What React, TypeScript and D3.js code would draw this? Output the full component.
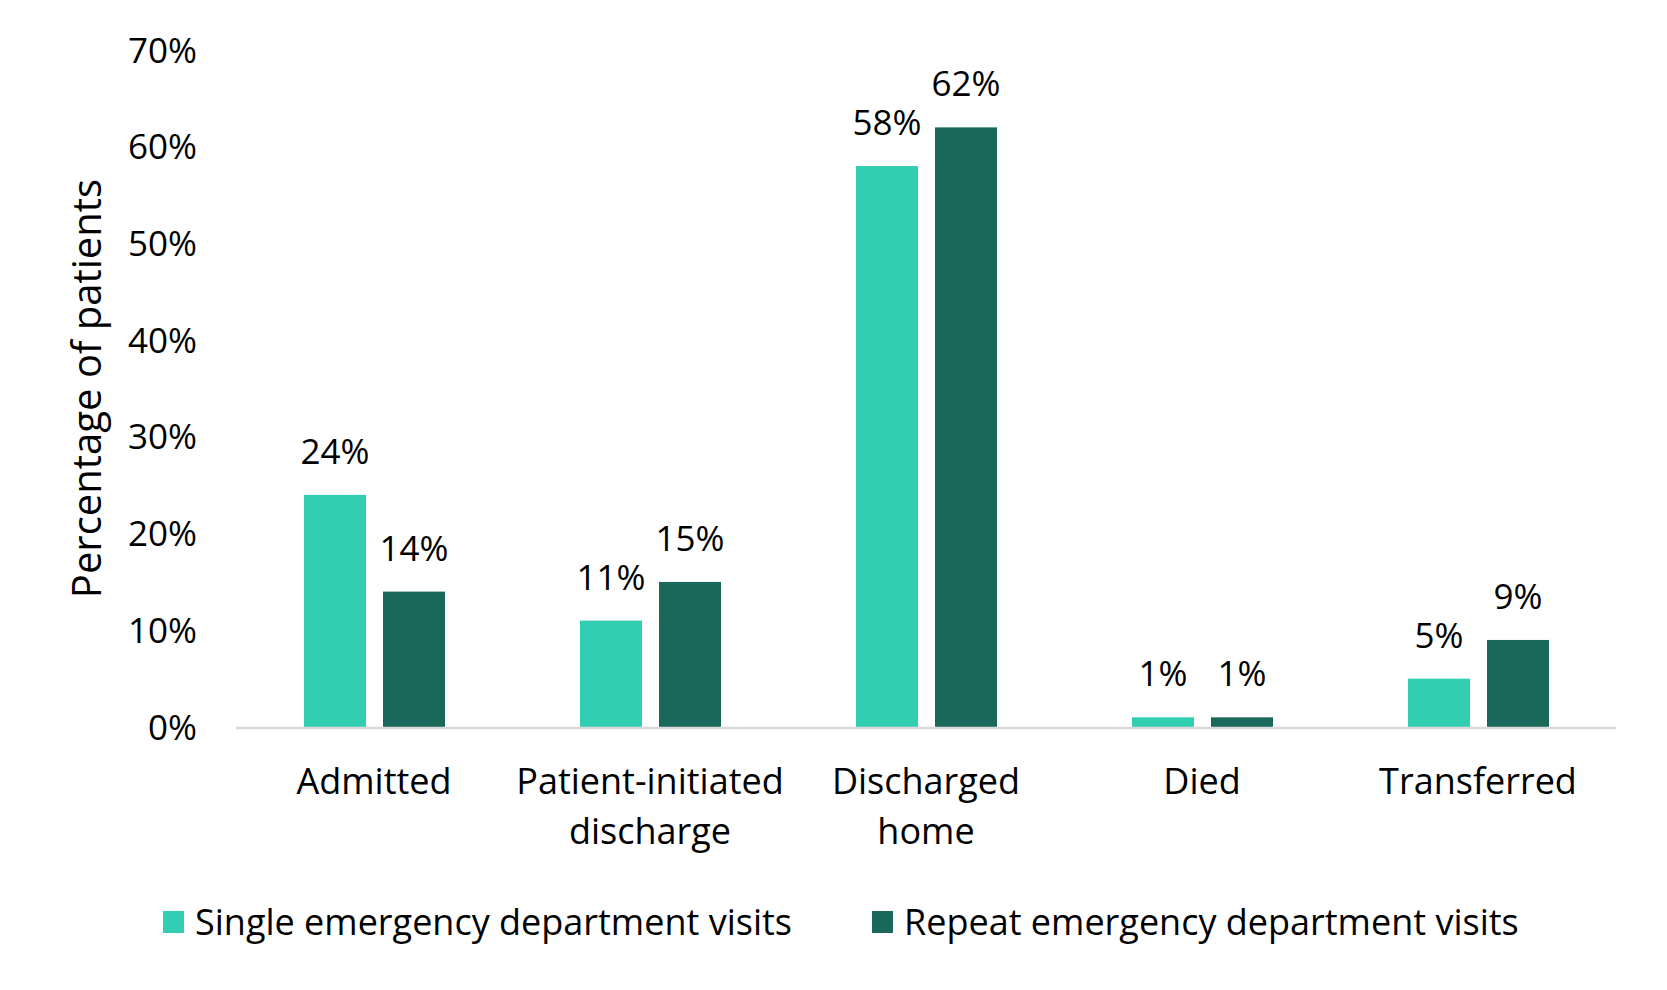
import React from "react";
import * as d3 from "d3";

const categories = ["Admitted", "Patient-initiated discharge", "Discharged home", "Died", "Transferred"];
const categoryLines = [["Admitted"], ["Patient-initiated", "discharge"], ["Discharged", "home"], ["Died"], ["Transferred"]];
const seriesNames = ["Single emergency department visits", "Repeat emergency department visits"];
const singleValues = [24, 11, 58, 1, 5];
const repeatValues = [14, 15, 62, 1, 9];
const yTicks = [0, 10, 20, 30, 40, 50, 60, 70];
const colors = ["#32CEB1", "#1B695B"];

const W = 1667;
const H = 990;
const FONT = "'Open Sans', sans-serif";
const FS_NUM = 35;
const FS_TXT = 36;

export default function App() {
  const x = d3.scaleBand<string>().domain(categories).range([236, 1616]);
  const xs = d3.scaleBand<string>().domain(seriesNames).range([68, 209]).paddingInner(0.215);
  const y = d3.scaleLinear().domain([0, 70]).range([727, 50]);
  const seriesValues = [singleValues, repeatValues];

  return (
    <svg width={W} height={H} style={{ position: "absolute", left: 0, top: 0, background: "#fff" }} fontFamily={FONT}>
      {yTicks.map((t) => (
        <text key={t} x={197} y={y(t)} dy="0.36em" textAnchor="end" fontSize={FS_NUM} fill="#000">
          {t}%
        </text>
      ))}
      <text transform={`translate(87, ${y(35)}) rotate(-90)`} textAnchor="middle" fontSize={40} fill="#000" dy="0.36em">
        Percentage of patients
      </text>
      {categories.map((c, ci) =>
        seriesNames.map((s, si) => {
          const v = seriesValues[si][ci];
          const bx = (x(c) as number) + (xs(s) as number);
          return (
            <g key={c + s}>
              <rect x={bx} y={y(v)} width={xs.bandwidth()} height={y(0) - y(v)} fill={colors[si]} />
              <text x={bx + xs.bandwidth() / 2} y={y(v) - 31} textAnchor="middle" fontSize={FS_NUM} fill="#000">
                {v}%
              </text>
            </g>
          );
        })
      )}
      <line x1={236} x2={1616} y1={y(0) + 1} y2={y(0) + 1} stroke="#D9D9D9" strokeWidth={2.5} />
      {categories.map((c, ci) => (
        <text key={c} x={(x(c) as number) + x.bandwidth() / 2} y={781} textAnchor="middle" fontSize={FS_TXT} fill="#000">
          {categoryLines[ci].map((l, li) => (
            <tspan key={li} x={(x(c) as number) + x.bandwidth() / 2} dy={li === 0 ? "0.36em" : 50}>
              {l}
            </tspan>
          ))}
        </text>
      ))}
      {seriesNames.map((s, si) => {
        const lx = [163, 872][si];
        return (
          <g key={s}>
            <rect x={lx} y={911} width={21} height={22} fill={colors[si]} />
            <text x={lx + 32} y={922} dy="0.36em" fontSize={FS_TXT} fill="#000">
              {s}
            </text>
          </g>
        );
      })}
    </svg>
  );
}
